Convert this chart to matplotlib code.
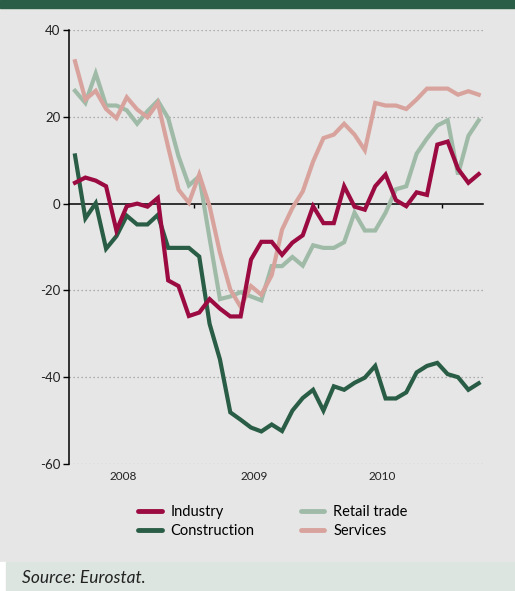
import matplotlib
matplotlib.use('Agg')
import matplotlib.pyplot as plt
from matplotlib.patches import Rectangle

plt.rcParams['font.family'] = ['Lato', 'DejaVu Sans']
plt.rcParams['axes.unicode_minus'] = False

# monthly confidence indicators, balance of answers
months = list(range(40))
industry = [4.8, 6.0, 5.3, 4.0, -6.2, -0.6, 0.0, -0.7, 1.3, -17.7,
            -19.0, -25.9, -25.1, -22.0, -24.2, -26.0, -26.0, -12.9, -8.8, -8.8,
            -11.8, -9.0, -7.3, -0.6, -4.5, -4.5, 4.0, -0.7, -1.4, 4.0,
            6.7, 0.8, -0.6, 2.6, 2.0, 13.6, 14.3, 8.0, 4.8, 6.8]
construction = [11.1, -3.4, 0.1, -10.4, -7.5, -2.8, -4.8, -4.8, -2.6, -10.2,
                -10.2, -10.2, -12.2, -27.7, -35.9, -48.1, -49.8, -51.6, -52.5, -50.9,
                -52.4, -47.7, -44.8, -42.9, -47.7, -42.1, -42.9, -41.3, -40.1, -37.4,
                -44.9, -44.9, -43.5, -38.9, -37.4, -36.7, -39.3, -40.0, -42.9, -41.4]
retail = [26.0, 23.2, 30.0, 22.6, 22.6, 21.5, 18.4, 21.3, 23.7, 19.7,
          10.9, 4.2, 6.3, -8.0, -22.0, -21.4, -20.4, -21.4, -22.3, -14.4,
          -14.4, -12.3, -14.3, -9.6, -10.2, -10.2, -8.9, -2.1, -6.2, -6.2,
          -2.1, 3.3, 4.0, 11.5, 15.0, 18.0, 19.2, 6.7, 15.6, 19.2]
services = [32.8, 24.0, 26.0, 21.8, 19.7, 24.5, 21.7, 19.9, 23.2, 13.0,
            3.2, 0.2, 6.7, -0.6, -11.3, -19.8, -23.8, -19.0, -21.0, -16.5,
            -6.0, -1.0, 2.8, 9.7, 15.1, 15.9, 18.4, 15.9, 12.3, 23.2,
            22.6, 22.6, 21.8, 24.0, 26.5, 26.5, 26.5, 25.1, 25.9, 25.1]

year_labels = ['2008', '2009', '2010']
year_label_pos = [4.7, 17.3, 29.7]
year_breaks = [11.5, 23.5, 35.5]

bg = '#e6e6e6'
fig = plt.figure(figsize=(5.15, 5.91), dpi=100, facecolor=bg)

# header band and source panel
fig.patches.append(Rectangle((0, 0.9865), 1, 0.0135, transform=fig.transFigure,
                             color='#2b5e47', zorder=0))
fig.patches.append(Rectangle((0, 0), 0.012, 0.049, transform=fig.transFigure,
                             color='white', zorder=0))
fig.patches.append(Rectangle((0.012, 0), 0.988, 0.049, transform=fig.transFigure,
                             color='#dce5e0', zorder=0))

ax = fig.add_axes([0.134, 0.2149, 0.804, 0.7343], facecolor=bg)

ax.plot(months, retail, color='#9fbba8', lw=3, solid_joinstyle='miter', label='Retail trade', zorder=3)
ax.plot(months, services, color='#d9a39d', lw=3, solid_joinstyle='miter', label='Services', zorder=4)
ax.plot(months, construction, color='#2a5d45', lw=3, solid_joinstyle='miter', label='Construction', zorder=5)
ax.plot(months, industry, color='#9b0b41', lw=3, solid_joinstyle='miter', label='Industry', zorder=6)

ax.set_xlim(-0.58, 39.42)
ax.set_ylim(-60, 40)
ax.set_yticks([-60, -40, -20, 0, 20, 40])
ax.set_yticklabels(['-60', '-40', '-20', '0', '20', '40'], fontsize=9.5, color='#222222')

for v in [-60, -40, -20, 20, 40]:
    ax.axhline(v, color='#9a9a9a', lw=0.9, ls=(0, (1, 2.2)), zorder=1)

for s in ['top', 'right']:
    ax.spines[s].set_visible(False)
ax.spines['left'].set_linewidth(1.1)
ax.spines['bottom'].set_position(('data', 0))
ax.spines['bottom'].set_linewidth(1.1)
ax.spines['bottom'].set_zorder(2)

ax.set_xticks(year_breaks)
ax.set_xticklabels([])
ax.tick_params(axis='x', direction='out', length=3, width=1)
ax.tick_params(axis='y', direction='out', length=4, width=1, pad=2)

for lab, pos in zip(year_labels, year_label_pos):
    ax.text(pos, -0.028, lab, transform=ax.get_xaxis_transform(),
            ha='center', va='center', fontsize=8.5, color='#222222')

handles, labels = ax.get_legend_handles_labels()
order = [3, 2, 0, 1]
leg = fig.legend([handles[i] for i in order], [labels[i] for i in order],
                 loc='center', bbox_to_anchor=(0.53, 0.118), ncol=2, frameon=False,
                 fontsize=10.5, handlelength=1.6, handletextpad=0.6,
                 columnspacing=3.2, labelspacing=0.35)
for line in leg.get_lines():
    line.set_linewidth(3.5)
    line.set_solid_capstyle('round')

fig.text(0.043, 0.022, 'Source: Eurostat.', fontsize=12.5, style='italic',
         ha='left', va='center', color='#222222')

fig.savefig('out.png', dpi=100, facecolor=bg)
